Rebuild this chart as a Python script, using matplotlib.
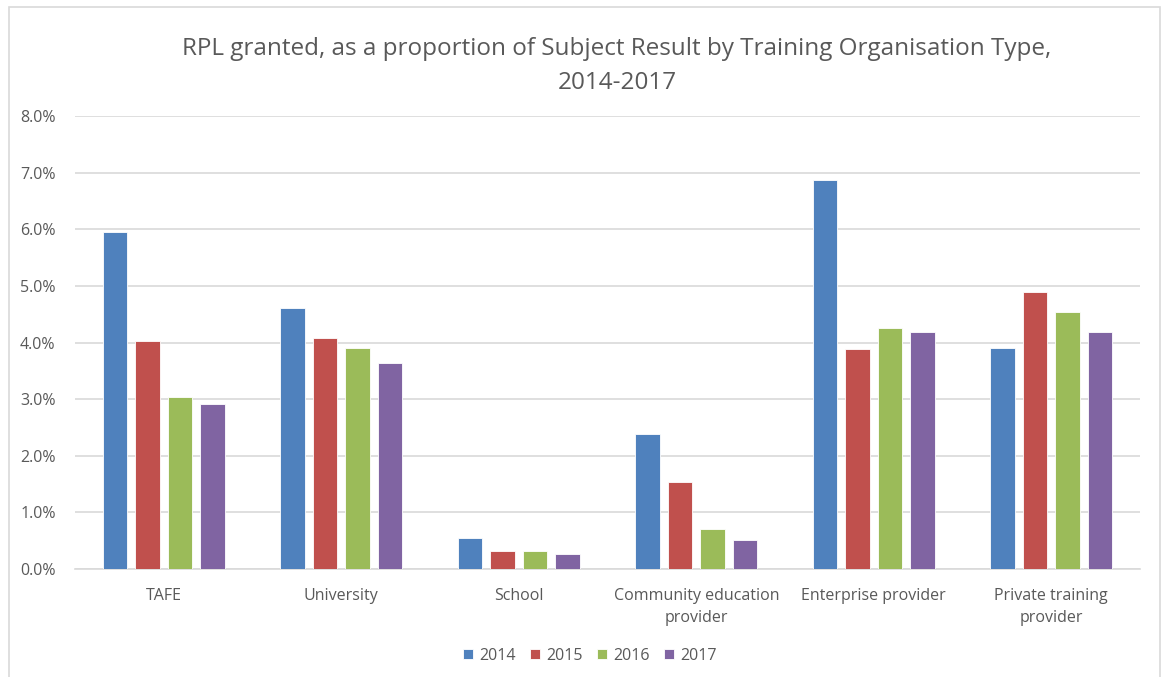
import matplotlib
matplotlib.use("Agg")
import matplotlib.pyplot as plt
import numpy as np
from matplotlib.patches import Rectangle
from matplotlib.ticker import FuncFormatter

categories = ["TAFE", "University", "School", "Community education\nprovider",
              "Enterprise provider", "Private training\nprovider"]
years = ["2014", "2015", "2016", "2017"]
v2014 = [5.95, 4.61, 0.54, 2.38, 6.87, 3.91]
v2015 = [4.03, 4.08, 0.31, 1.54, 3.88, 4.90]
v2016 = [3.04, 3.91, 0.32, 0.71, 4.25, 4.54]
v2017 = [2.92, 3.64, 0.27, 0.52, 4.18, 4.18]
series = [v2014, v2015, v2016, v2017]
colors = ["#4F81BD", "#C0504D", "#9BBB59", "#8064A2"]

plt.rcParams['font.family'] = ['Open Sans', 'DejaVu Sans']
txt = "#595959"

W, H = 1162, 677
fig = plt.figure(figsize=(W/100, H/100), dpi=100)
ax = fig.add_axes([75/W, 1 - 569/H, (1140-75)/W, (569-116)/H])

x = np.arange(len(categories))
bw = 0.14
pitch = 0.183
for i, (vals, c) in enumerate(zip(series, colors)):
    ax.bar(x + (i - 1.5) * pitch, vals, width=bw, color=c, edgecolor="white",
           linewidth=0.6, label=years[i], zorder=3)

ax.set_xlim(-0.5, len(categories) - 0.5)
ax.set_ylim(0, 8)
ax.set_yticks(np.arange(0, 8.01, 1))
ax.yaxis.set_major_formatter(FuncFormatter(lambda v, p: f"{v:.1f}%"))
ax.grid(axis="y", color="#D9D9D9", linewidth=1.2, zorder=0)
for s in ["top", "right", "left"]:
    ax.spines[s].set_visible(False)
ax.spines["bottom"].set_color("#D9D9D9")
ax.spines["bottom"].set_linewidth(1.2)
ax.set_xticks(x)
ax.set_xticklabels(categories, fontsize=11.5, color=txt, linespacing=1.5)
ax.tick_params(axis="x", length=0, pad=14)
ax.tick_params(axis="y", length=0, pad=14, labelsize=11.5, labelcolor=txt)

fig.text(617/W, 1 - 66/H,
         "RPL granted, as a proportion of Subject Result by Training Organisation Type,\n2014-2017",
         ha="center", va="center", fontsize=17.5, color=txt, linespacing=1.6)

leg = fig.legend(loc="center", bbox_to_anchor=(590/W, 1 - 656/H), ncol=4, frameon=False,
                 fontsize=11.5, handlelength=0.6, handleheight=0.6, handletextpad=0.4,
                 columnspacing=0.9)
for t in leg.get_texts():
    t.set_color(txt)

fig.patches.append(Rectangle((9/W, -0.05), (1160-9)/W, 1.05 - 7/H, transform=fig.transFigure,
                             fill=False, edgecolor="#D9D9D9", linewidth=1.2))

fig.savefig("out.png", dpi=100)
